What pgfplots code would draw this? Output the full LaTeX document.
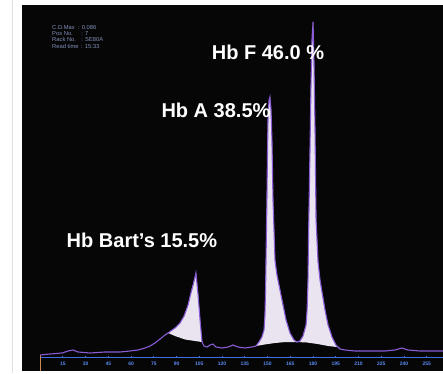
\documentclass[border=0pt]{standalone}
\usepackage{pgfplots}
\pgfplotsset{compat=1.18}
\usepackage{fontspec}
\setmainfont{Liberation Sans}
\definecolor{trace}{HTML}{8A5CD6}
\definecolor{peakfill}{HTML}{E9E4F0}
\definecolor{axisblue}{HTML}{3F6FE0}
\definecolor{ticklbl}{HTML}{5A8AF0}
\definecolor{infotext}{HTML}{8090B8}
\definecolor{bg}{HTML}{060606}
\definecolor{orangeaxis}{HTML}{D08A50}
\begin{document}
\begin{tikzpicture}
\path[use as bounding box, fill=white] (0,0) rectangle (443pt,373pt);
\draw[black!12, line width=0.8pt] (12.5pt,0) -- (12.5pt,373pt);
\begin{axis}[at={(22pt,2pt)}, anchor=south west, width=421pt, height=366pt, scale only axis,
  xmin=-11.9, xmax=265.7, ymin=-14, ymax=352,
  axis background/.style={fill=bg},
  axis x line=middle, axis y line=none, x axis line style={draw=none},
  xtick={15,30,...,255}, ytick=\empty,
  xticklabel style={font=\bfseries\fontsize{5}{5}\selectfont, text=ticklbl, yshift=-0.3pt},
  /pgf/number format/assume math mode=true,
  major tick length=2.5pt, every tick/.style={axisblue, line width=0.9pt},
  clip=true]
\addplot[fill=peakfill, draw=none] coordinates {(84.4,24) (89.0,29) (92.3,34) (95,41) (97.6,52) (99.5,64) (100.9,72) (102.2,80) (102.8,84) (104.2,62) (105.5,37) (106.8,15) (102.2,16) (95.6,17.5) (89,21)} -- cycle;
\addplot[fill=peakfill, draw=none] coordinates {(142.4,11) (144.4,15) (146.3,20) (147.7,27) (148.3,42) (148.7,67) (149,97) (149.6,157) (150,207) (150.3,237) (151,257) (151.6,260) (152.3,247) (152.9,217) (153.6,157) (154.9,97) (156.2,82) (158.2,67) (160.2,52) (162.2,37) (164.8,24) (167.4,17) (169.4,15) (171.4,16) (173.4,21) (175.4,32) (176.1,47) (176.7,77) (177,117) (178,207) (178.6,267) (179.3,317) (180,335) (180.6,297) (181.3,227) (182,137) (183.3,95) (184.6,77) (185.9,65) (187.9,47) (189.9,32) (192.5,20) (195.1,12) (195.8,10) (190,11) (183,13) (176,14.5) (169.4,15) (162,15) (155,14) (148,12.5)} -- cycle;
\addplot[axisblue, line width=1pt] coordinates {(0,0) (265.7,0)};
\addplot[orangeaxis, line width=1pt] coordinates {(0,-14) (0,2)};
\addplot[trace, line width=1.1pt] coordinates {(0,2) (6.6,3) (14.5,4) (18.5,6) (21.8,7) (25,5) (33,4) (42.8,5) (52.7,5) (59.3,6) (64.6,7) (69.2,9) (72.5,11) (75.8,14) (79.1,18) (82.4,22) (84.4,24) (89.0,29) (92.3,34) (95,41) (97.6,52) (99.5,64) (100.9,72) (102.2,80) (102.8,84) (104.2,62) (105.5,37) (106.8,15) (108.1,11) (110.1,10) (112.1,12) (114,13) (116,10) (120,9) (124,10) (127.2,12) (130.5,10) (135.1,9) (139.8,10) (142.4,11) (144.4,15) (146.3,20) (147.7,27) (148.3,42) (148.7,67) (149,97) (149.6,157) (150,207) (150.3,237) (151,257) (151.6,260) (152.3,247) (152.9,217) (153.6,157) (154.9,97) (156.2,82) (158.2,67) (160.2,52) (162.2,37) (164.8,24) (167.4,17) (169.4,15) (171.4,16) (173.4,21) (175.4,32) (176.1,47) (176.7,77) (177,117) (178,207) (178.6,267) (179.3,317) (180,335) (180.6,297) (181.3,227) (182,137) (183.3,95) (184.6,77) (185.9,65) (187.9,47) (189.9,32) (192.5,20) (195.1,12) (197.8,8) (201.1,7) (207.6,6) (217.5,6) (227.4,6) (234,7) (238.6,9) (242.6,7) (250.5,6) (265.7,6)};
\node[text=white, font=\bfseries\fontsize{20}{24}\selectfont] at (axis cs:150.3,305) {Hb F 46.0 \%};
\node[text=white, font=\bfseries\fontsize{20}{24}\selectfont] at (axis cs:116,247) {Hb A 38.5\%};
\node[text=white, font=\bfseries\fontsize{20}{24}\selectfont] at (axis cs:67.2,117) {Hb Bart{\char"27}s 15.5\%};
\node[anchor=north west, align=left, text=infotext, inner sep=0pt, font=\fontsize{5.8}{6.3}\selectfont] at (axis cs:7.9,332) {C.D.Max \ : 0.086\\Pos No. \ \ \ \ : 7\\Rack No. \ \ : SE80A\\Read time \,: 15:33};
\end{axis}
\end{tikzpicture}
\end{document}
